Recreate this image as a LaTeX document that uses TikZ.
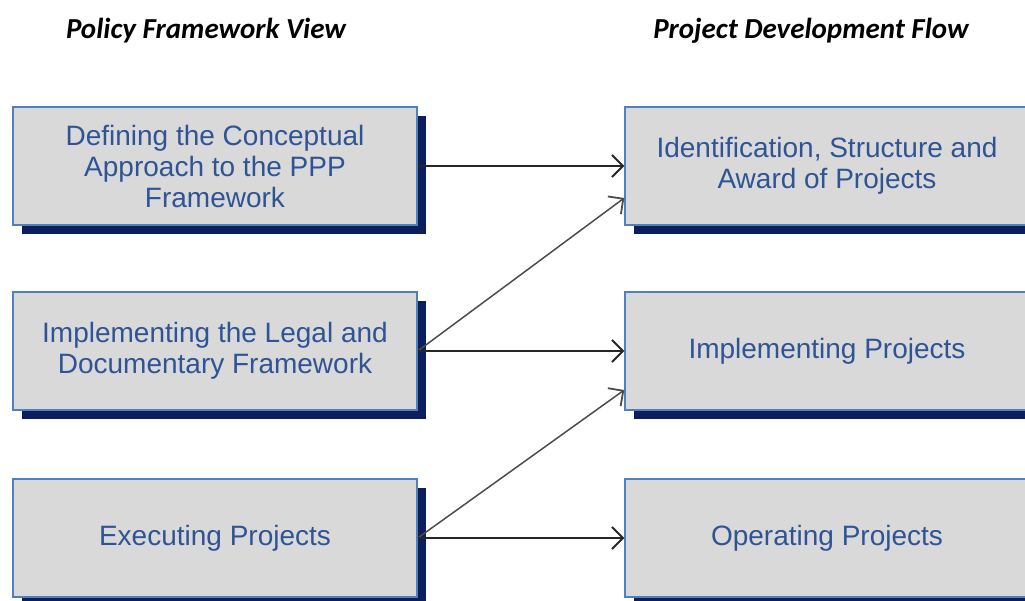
\documentclass[tikz,border=0pt]{standalone}
\usepackage{fontspec}
\setmainfont{Liberation Sans}
\newfontfamily\headfont{Carlito}
\usepackage{tikz}
\usetikzlibrary{arrows.meta,shadows}
\definecolor{boxgray}{RGB}{217,217,217}
\definecolor{boxline}{RGB}{79,129,189}
\definecolor{boxtext}{RGB}{47,84,150}
\definecolor{shade}{RGB}{12,30,92}

\begin{document}
\begin{tikzpicture}[x=1pt,y=-1pt]
        \tikzset{stage/.style = {shape=rectangle,draw=boxline,line width=1.5pt,fill=boxgray,
                 minimum width=404pt,minimum height=118pt,align=center,text=boxtext,
                 font=\fontsize{28}{31}\selectfont,
                 drop shadow={shadow xshift=9pt,shadow yshift=-9pt,fill=shade,opacity=1}},
                 head/.style = {font=\headfont\bfseries\itshape\fontsize{29}{34}\selectfont},
                 link/.style = {draw=black!85,line width=2pt,-{Straight Barb[length=11pt,width=22pt,line width=1.8pt]}}}
        \useasboundingbox (0,0) rectangle (1025,601);
        % headings
        \node[head] (hl) at (206,31) {Policy Framework View};
        \node[head] (hr) at (811,31) {Project Development Flow};
        % policy framework
        \node[stage] (p1) at (215,166) {Defining the Conceptual\\Approach to the PPP\\Framework};
        \node[stage] (p2) at (215,351) {Implementing the Legal and\\Documentary Framework};
        \node[stage] (p3) at (215,538) {Executing Projects};
        % project flow
        \node[stage] (d1) at (827,166) {Identification, Structure and\\Award of Projects};
        \node[stage] (d2) at (827,351) {Implementing Projects};
        \node[stage] (d3) at (827,538) {Operating Projects};
        % links
        \draw[link] (p1.east) -- (d1.west);
        \draw[link,draw=black!70,line width=1.5pt] (p2.east) -- ([yshift=-32pt]d1.west);
        \draw[link] (p2.east) -- (d2.west);
        \draw[link,draw=black!70,line width=1.5pt] (p3.east) -- ([yshift=-39pt]d2.west);
        \draw[link] (p3.east) -- (d3.west);
\end{tikzpicture}
\end{document}
